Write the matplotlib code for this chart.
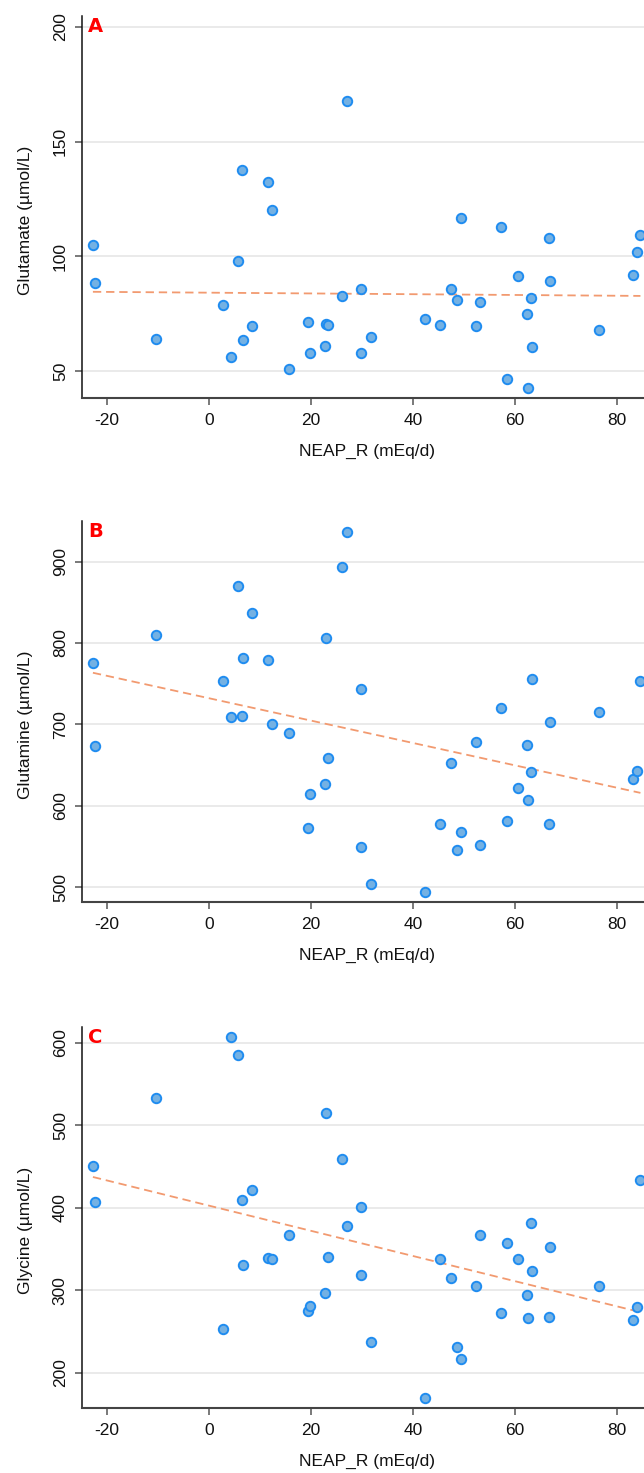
import numpy as np
import matplotlib
matplotlib.use("Agg")
import matplotlib.pyplot as plt
from matplotlib import font_manager

plt.rcParams['font.family'] = ['Liberation Sans', 'DejaVu Sans']
plt.rcParams['axes.unicode_minus'] = False

# ---- data ----
neap_r = [-22.8, -22.3, -10.5, 2.8, 4.2, 5.6, 6.4, 6.6, 8.5, 11.5, 12.3, 15.6,
          19.4, 19.8, 22.8, 23.0, 23.3, 26.1, 27.0, 29.7, 29.8, 31.8, 42.4,
          45.2, 47.4, 48.6, 49.5, 52.3, 53.2, 57.2, 58.4, 60.5, 62.4, 62.6,
          63.1, 63.4, 66.7, 66.8, 76.4, 83.1, 84.0, 84.6]
glutamate = [105.1, 88.2, 64.2, 78.9, 56.0, 98.1, 137.8, 63.8, 69.9, 132.3,
             120.2, 51.0, 71.5, 57.8, 60.8, 70.5, 70.1, 82.6, 167.6, 85.9,
             58.0, 64.7, 72.7, 70.3, 85.8, 81.0, 116.9, 69.9, 80.1, 112.8,
             46.7, 91.3, 75.1, 42.9, 81.7, 60.6, 108.1, 89.5, 67.9, 92.0,
             101.9, 109.3]
glutamine = [775.1, 673.8, 809.4, 753.9, 709.0, 870.6, 710.6, 781.6, 836.3,
             778.8, 700.8, 689.0, 573.3, 615.0, 626.8, 805.7, 659.1, 893.1,
             936.7, 743.7, 549.6, 504.3, 494.4, 577.4, 652.6, 545.9, 568.0,
             678.3, 552.5, 720.8, 581.9, 621.9, 674.3, 606.8, 641.6, 756.3,
             577.8, 702.5, 715.1, 632.6, 642.4, 753.5]
glycine = [450.9, 406.9, 532.5, 252.6, 606.5, 584.6, 409.3, 330.0, 421.0,
           339.3, 337.2, 366.8, 275.3, 281.4, 296.4, 514.7, 339.7, 459.0,
           377.4, 400.8, 319.0, 237.2, 169.6, 338.1, 314.2, 230.8, 217.0,
           304.9, 367.2, 272.1, 357.5, 338.1, 294.7, 266.0, 381.8, 323.5,
           267.2, 352.6, 305.3, 263.6, 279.8, 433.5]

panel_letters = ["A", "B", "C"]
y_labels = ["Glutamate (µmol/L)", "Glutamine (µmol/L)", "Glycine (µmol/L)"]
x_label = "NEAP_R (mEq/d)"
x_ticks = [-20, 0, 20, 40, 60, 80]
y_ticks = [[50, 100, 150, 200], [500, 600, 700, 800, 900], [200, 300, 400, 500, 600]]
y_limits = [(38.2, 204.7), (481.6, 950.2), (156.8, 619.4)]
x_limits = (-25.0, 85.3)
series = [glutamate, glutamine, glycine]

# ---- layout ----
W, H = 644, 1473
fig = plt.figure(figsize=(W / 100, H / 100), dpi=100)
left_px, right_px = 81.7, 644
tops_bottoms = [(16, 398.3), (520.7, 902.3), (1026.7, 1408.3)]

marker_face = "#74b1e3"
marker_edge = "#1f8cf0"
line_color = "#f29a70"
grid_color = "#e6e6e6"

try:
    font_manager.findfont("Liberation Sans Narrow", fallback_to_default=False)
    letter_family = ["Liberation Sans Narrow", "DejaVu Sans"]
except Exception:
    letter_family = ["DejaVu Sans"]

for i, (top, bot) in enumerate(tops_bottoms):
    ax_h = bot - top
    ax = fig.add_axes([left_px / W, 1 - bot / H, (right_px - left_px) / W, ax_h / H])
    x = np.array(neap_r)
    y = np.array(series[i])
    ax.set_xlim(*x_limits)
    ax.set_ylim(*y_limits[i])
    ax.set_xticks(x_ticks)
    ax.set_yticks(y_ticks[i])
    ax.grid(axis="y", color=grid_color, linewidth=1.2, zorder=0)
    ax.set_axisbelow(True)

    slope, intercept = np.polyfit(x, y, 1)
    xl = np.array([x.min(), x.max()])
    ax.plot(xl, intercept + slope * xl, linestyle=(0, (4.6, 2.7)), color=line_color,
            linewidth=1.3, zorder=2)
    ax.plot(x, y, linestyle="none", marker="o", markersize=6.8,
            markerfacecolor=marker_face, markeredgecolor=marker_edge,
            markeredgewidth=1.4, zorder=3, clip_on=True)

    for s in ["top", "right"]:
        ax.spines[s].set_visible(False)
    ax.spines["left"].set_color("#111111")
    ax.spines["left"].set_linewidth(1.1)
    ax.spines["bottom"].set_color("#444444")
    ax.spines["bottom"].set_linewidth(1.5)

    ax.tick_params(axis="both", direction="out", length=5, width=1.1,
                   color="#555555", labelsize=12.5, labelcolor="#111111")
    ax.tick_params(axis="x", pad=5.5)
    ax.tick_params(axis="y", pad=5)
    for lab in ax.get_yticklabels():
        lab.set_rotation(90)
        lab.set_verticalalignment("center")

    ax.set_xlabel(x_label, fontsize=12.5, color="#111111")
    ax.xaxis.set_label_coords(0.5065, -46 / ax_h)
    ax.set_ylabel(y_labels[i], fontsize=12.5, color="#111111")
    ax.yaxis.set_label_coords(-(81.7 - 33) / (right_px - left_px), 0.466)

    ax.text(6.5 / (right_px - left_px), 1 - 1.0 / ax_h, panel_letters[i],
            transform=ax.transAxes, ha="left", va="top", color="#ff0000",
            fontsize=14, fontweight="bold", family=letter_family)

fig.savefig("out.png", dpi=100)
